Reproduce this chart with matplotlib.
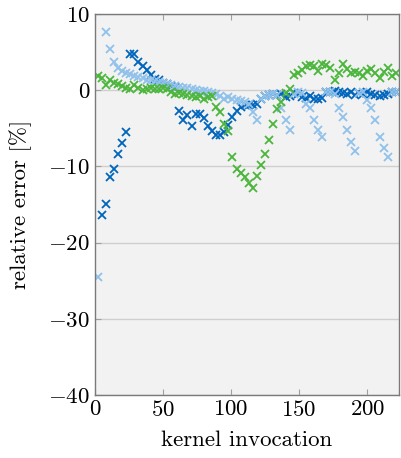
import numpy as np
import matplotlib
matplotlib.use("Agg")
import matplotlib.pyplot as plt

plt.rcParams["font.family"] = "serif"
plt.rcParams["font.serif"] = ["cmr10"]
plt.rcParams["mathtext.fontset"] = "cm"
plt.rcParams["axes.formatter.use_mathtext"] = True

# kernel invocation index (every third invocation)
invocation = list(range(2, 225, 3))

nan = np.nan
err_dark = [nan, -16.4, -15.0, -11.4, -10.4, -8.4, -6.95, -5.5, 4.8, 4.7,
            3.7, 3.2, 2.6, 2.0, 1.5, 1.3, 1.0, 0.8, 0.6, 0.4,
            -2.7, -3.9, -3.2, -4.7, -3.1, -3.1, -3.7, -4.7, -5.3, -5.9,
            -5.9, -5.5, -4.6, -3.5, -2.7, -2.2, -2.0, -2.0, -2.0, -1.75,
            -1.1, -0.8, -0.65, -0.55, -0.6, -0.5, -0.9, -0.7, -0.4, -0.5,
            -0.9, -1.0, -0.8, -1.1, -1.2, -1.0, -0.3, -0.2, -0.1, -0.3,
            -0.4, -0.5, -0.3, -0.6, -0.4, -0.5, -0.2, -0.5, -0.6, -0.7,
            -0.6, -0.5, -0.2, -0.2, nan]

err_light = [-24.5, nan, 7.6, 5.4, 3.7, 2.85, 2.5, 2.3, 2.1, 1.8,
             1.7, 1.55, 1.4, 1.3, 1.2, 1.05, 0.9, 0.8, 0.7, 0.55,
             0.45, 0.35, 0.25, 0.15, 0.05, -0.05, -0.15, -0.25, -0.35, -0.45,
             -0.7, -1.1, -0.9, -1.2, -1.3, -1.4, -1.5, -1.8, -2.8, -3.85,
             -1.1, -0.8, -0.6, -0.5, -0.6, -2.4, -3.85, -5.25, -0.45, -0.3,
             -0.4, -1.75, -2.4, -3.9, -5.2, -6.2, -0.3, -0.2, -0.5, -2.4,
             -3.5, -5.2, -6.8, -8.0, -0.4, -0.3, -1.3, -2.4, -3.9, -6.1,
             -7.65, -8.8, -0.3, -0.2, nan]

err_green = [1.85, 1.65, 0.65, 1.3, 0.9, 0.8, 0.5, 0.35, 0.2, 0.65,
             0.35, 0.0, 0.2, 0.35, 0.1, 0.1, 0.35, 0.2, -0.2, -0.45,
             -0.35, -0.55, -0.65, -0.75, -0.9, -0.75, -1.2, -0.9, -0.8, -2.2,
             -2.9, -4.5, -5.3, -8.8, -10.3, -10.9, -11.4, -12.2, -12.9, -11.3,
             -9.8, -8.4, -6.5, -4.4, -2.5, -1.6, -0.35, 0.1, 2.0, 2.2,
             2.6, 3.15, 3.3, 3.15, 2.5, 3.4, 3.3, 2.9, 1.4, 2.3,
             3.4, 2.8, 2.2, 2.4, 2.2, 1.8, 2.5, 2.75, 2.2, 1.65,
             2.4, 2.85, 1.8, 2.3, nan]

fig = plt.figure(figsize=(4.02, 4.58), dpi=100)
ax = fig.add_axes([0.236, 0.1376, 0.7565, 0.8318])
ax.set_facecolor("#f2f2f2")

mk = dict(marker="x", linestyle="none", markersize=5.5, markeredgewidth=1.3)
ax.plot(invocation, err_dark, color="#0065bd", **mk)
ax.plot(invocation, err_light, color="#8fc1ea", **mk)
ax.plot(invocation, err_green, color="#4bb53c", **mk)

ax.set_xlim(0, 223.3)
ax.set_ylim(-40, 10)
ax.set_xticks([0, 50, 100, 150, 200])
ax.set_yticks([-40, -30, -20, -10, 0, 10])
ax.yaxis.grid(True, color="#cfcfcf", linewidth=1.0)
ax.set_axisbelow(True)
ax.tick_params(direction="in", length=4, color="#a0a0a0", labelsize=16.5,
               top=True, right=False)
for s in ax.spines.values():
    s.set_color("#7a7a7a")
    s.set_linewidth(1.0)

ax.set_xlabel("kernel invocation", fontsize=16.5, labelpad=8)
ax.set_ylabel("relative error [%]", fontsize=16.5, labelpad=12)

fig.savefig("out.png", dpi=100)
